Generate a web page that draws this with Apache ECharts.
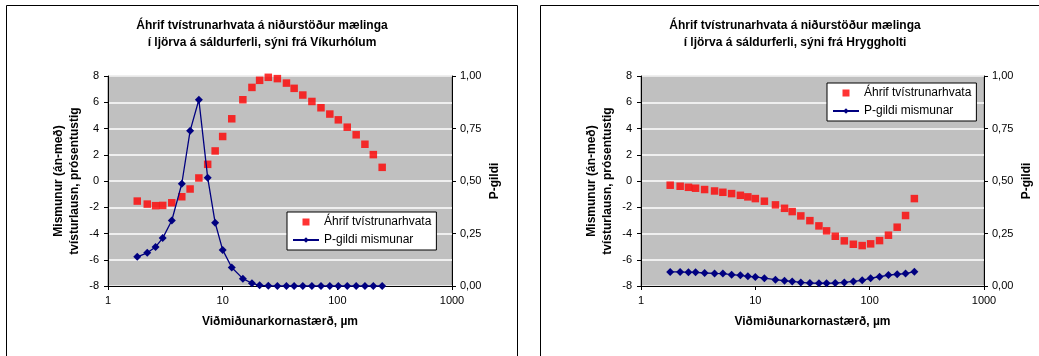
<!DOCTYPE html>
<html>
<head>
<meta charset="utf-8">
<script src="https://cdn.jsdelivr.net/npm/echarts@6/dist/echarts.min.js"></script>
<style>
  html, body { margin: 0; padding: 0; background: #fff; }
  #chart { width: 1039px; height: 356px; }
</style>
</head>
<body>
<div id="chart"></div>
<script>
// Viðmiðunarkornastærð (µm), sama fyrir bæði línurit
const sizes = [1.8, 2.2, 2.6, 3.0, 3.6, 4.4, 5.2, 6.2, 7.4, 8.6, 10, 12, 15, 18, 21, 25, 30, 36, 42, 50, 60, 72, 86, 102, 122, 146, 174, 206, 246];

// Víkurhólar
const vikAhrif = [-1.53, -1.76, -1.88, -1.86, -1.66, -1.20, -0.61, 0.23, 1.27, 2.29, 3.39, 4.74, 6.19, 7.13, 7.67, 7.90, 7.80, 7.46, 7.06, 6.55, 6.06, 5.58, 5.10, 4.66, 4.10, 3.52, 2.80, 2.01, 1.04];
const vikP = [0.139, 0.158, 0.186, 0.228, 0.312, 0.487, 0.739, 0.887, 0.516, 0.301, 0.172, 0.088, 0.035, 0.013, 0.003, 0.001, 0, 0, 0, 0, 0, 0, 0, 0, 0, 0, 0, 0, 0];

// Hryggholt
const hryAhrif = [-0.32, -0.40, -0.48, -0.55, -0.65, -0.76, -0.86, -0.96, -1.09, -1.21, -1.34, -1.54, -1.82, -2.08, -2.33, -2.66, -3.02, -3.42, -3.80, -4.21, -4.56, -4.82, -4.92, -4.79, -4.54, -4.13, -3.52, -2.63, -1.34];
const hryP = [0.067, 0.067, 0.065, 0.065, 0.062, 0.060, 0.059, 0.054, 0.051, 0.046, 0.043, 0.037, 0.030, 0.025, 0.022, 0.017, 0.014, 0.013, 0.013, 0.014, 0.017, 0.022, 0.027, 0.037, 0.044, 0.052, 0.056, 0.059, 0.068];

const xTicks = [1, 10, 100, 1000];
const nafnAhrif = 'Áhrif tvístrunarhvata';
const nafnP = 'P-gildi mismunar';

const FONT = '"Liberation Sans", Arial, sans-serif';

function pairs(vals) {
    return sizes.map((s, i) => [s, vals[i]]);
}

function xAxis(gridIndex) {
    return {
        type: 'log', logBase: 10, gridIndex,
        min: xTicks[0], max: xTicks[xTicks.length - 1],
        name: 'Viðmiðunarkornastærð, µm',
        nameLocation: 'middle', nameGap: 30,
        nameTextStyle: { fontFamily: FONT, fontSize: 12, fontWeight: 'bold', color: '#000' },
        axisLine: { show: true, onZero: false, lineStyle: { color: '#000', width: 1 } },
        axisTick: { show: true, length: 4, lineStyle: { color: '#000' } },
        minorTick: { show: false },
        splitLine: { show: false },
        axisLabel: { fontFamily: FONT, fontSize: 11, color: '#000', margin: 9,
            formatter: v => String(Math.round(v)) }
    };
}

function yLeft(gridIndex) {
    return {
        type: 'value', gridIndex, min: -8, max: 8, interval: 2,
        name: 'Mismunur (án-með)\ntvísturlausn, prósentustig',
        nameLocation: 'middle', nameRotate: 90, nameGap: 25,
        nameTextStyle: { fontFamily: FONT, fontSize: 12, fontWeight: 'bold', color: '#000', lineHeight: 16 },
        axisLine: { show: true, onZero: false, lineStyle: { color: '#000', width: 1 } },
        axisTick: { show: true, length: 4, lineStyle: { color: '#000' } },
        splitLine: { show: true, lineStyle: { color: '#fff', width: 1.5 } },
        axisLabel: { fontFamily: FONT, fontSize: 11, color: '#000', margin: 9 }
    };
}

function yRight(gridIndex) {
    return {
        type: 'value', gridIndex, position: 'right', min: 0, max: 1, interval: 0.25,
        name: 'P-gildi',
        nameLocation: 'middle', nameRotate: 90, nameGap: 37,
        nameTextStyle: { fontFamily: FONT, fontSize: 12, fontWeight: 'bold', color: '#000' },
        axisLine: { show: true, onZero: false, lineStyle: { color: '#000', width: 1 } },
        axisTick: { show: true, length: 4, lineStyle: { color: '#000' } },
        splitLine: { show: false },
        axisLabel: { fontFamily: FONT, fontSize: 11, color: '#000', margin: 8,
            formatter: v => v.toFixed(2).replace('.', ',') }
    };
}

function scatter(xi, yi, vals) {
    return {
        name: nafnAhrif, type: 'scatter', xAxisIndex: xi, yAxisIndex: yi,
        symbol: 'rect', symbolSize: 7.5,
        itemStyle: { color: '#ff0000' },
        data: pairs(vals), z: 3
    };
}

function pLine(xi, yi, vals) {
    return {
        name: nafnP, type: 'line', xAxisIndex: xi, yAxisIndex: yi,
        symbol: 'diamond', symbolSize: 8, showSymbol: true,
        itemStyle: { color: '#000080' },
        lineStyle: { color: '#000080', width: 1.3 },
        data: pairs(vals), z: 4
    };
}

function legend(left, top) {
    return {
        left, top, orient: 'vertical',
        backgroundColor: '#fff', borderColor: '#000', borderWidth: 1,
        padding: [3, 5, 3, 5],
        itemWidth: 26, itemHeight: 7, itemGap: 4,
        textStyle: { fontFamily: FONT, fontSize: 12, color: '#000', lineHeight: 14 },
        data: [
            { name: nafnAhrif, icon: 'path://M0,0H10V10H0Z' },
            { name: nafnP }
        ]
    };
}

function title(text, x) {
    return {
        text, left: x, top: 17, textAlign: 'center', padding: 0,
        textStyle: { fontFamily: FONT, fontSize: 12, fontWeight: 'bold', color: '#000', lineHeight: 17 }
    };
}

const chart = echarts.init(document.getElementById('chart'), null, { renderer: 'canvas' });

const gridBase = { top: 76, height: 210, show: true, backgroundColor: '#c0c0c0', borderColor: '#808080', borderWidth: 1 };

chart.setOption({
    animation: false,
    backgroundColor: '#fff',
    title: [
        title('Áhrif tvístrunarhvata á niðurstöður mælinga\ní ljörva á sáldurferli, sýni frá Víkurhólum', 262),
        title('Áhrif tvístrunarhvata á niðurstöður mælinga\ní ljörva á sáldurferli, sýni frá Hryggholti', 795)
    ],
    graphic: [
        { type: 'rect', shape: { x: 6.5, y: 5.5, width: 511, height: 400 },
          style: { fill: 'none', stroke: '#000', lineWidth: 1 }, z: -1 },
        { type: 'rect', shape: { x: 540.5, y: 5.5, width: 560, height: 400 },
          style: { fill: 'none', stroke: '#000', lineWidth: 1 }, z: -1 }
    ],
    legend: [legend(287, 212), legend(827, 83)],
    grid: [
        Object.assign({ left: 108, width: 344 }, gridBase),
        Object.assign({ left: 641, width: 343 }, gridBase)
    ],
    xAxis: [xAxis(0), xAxis(1)],
    yAxis: [yLeft(0), yRight(0), yLeft(1), yRight(1)],
    series: [
        scatter(0, 0, vikAhrif),
        pLine(0, 1, vikP),
        scatter(1, 2, hryAhrif),
        pLine(1, 3, hryP)
    ]
});
</script>
</body>
</html>
